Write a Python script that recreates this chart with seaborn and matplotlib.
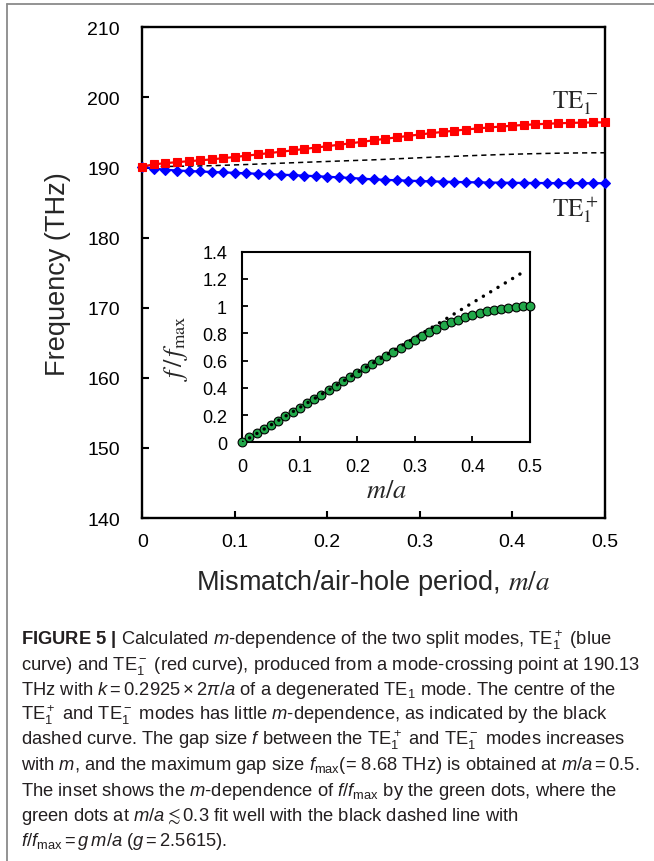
import numpy as np
import pandas as pd
import matplotlib
matplotlib.use("Agg")
import matplotlib.pyplot as plt
import seaborn as sns
from matplotlib import font_manager
from matplotlib.lines import Line2D

# ---------------- data ----------------
m_over_a = [0.0, 0.0125, 0.025, 0.0375, 0.05, 0.0625, 0.075, 0.0875, 0.1, 0.1125,
            0.125, 0.1375, 0.15, 0.1625, 0.175, 0.1875, 0.2, 0.2125, 0.225, 0.2375,
            0.25, 0.2625, 0.275, 0.2875, 0.3, 0.3125, 0.325, 0.3375, 0.35, 0.3625,
            0.375, 0.3875, 0.4, 0.4125, 0.425, 0.4375, 0.45, 0.4625, 0.475, 0.4875, 0.5]

te_minus = [190.13, 190.45, 190.62, 190.76, 190.90, 191.02, 191.16, 191.33, 191.50, 191.68,
            191.87, 192.06, 192.25, 192.44, 192.64, 192.84, 193.04, 193.24, 193.45, 193.66,
            193.88, 194.09, 194.30, 194.51, 194.71, 194.90, 195.08, 195.25, 195.42, 195.57,
            195.71, 195.84, 195.96, 196.07, 196.16, 196.24, 196.31, 196.36, 196.40, 196.43, 196.44]

te_plus = [190.13, 189.85, 189.68, 189.57, 189.50, 189.43, 189.36, 189.30, 189.24, 189.17,
           189.11, 189.04, 188.98, 188.91, 188.84, 188.76, 188.68, 188.60, 188.51, 188.41,
           188.31, 188.24, 188.18, 188.12, 188.07, 188.02, 187.98, 187.94, 187.91, 187.88,
           187.86, 187.84, 187.82, 187.80, 187.79, 187.78, 187.77, 187.77, 187.76, 187.76, 187.76]

f_ratio = [0.0, 0.04, 0.07, 0.095, 0.125, 0.16, 0.19, 0.225, 0.255, 0.285,
           0.32, 0.35, 0.385, 0.415, 0.45, 0.48, 0.51, 0.545, 0.575, 0.605,
           0.635, 0.665, 0.695, 0.725, 0.755, 0.78, 0.81, 0.835, 0.86, 0.88,
           0.90, 0.92, 0.935, 0.95, 0.962, 0.973, 0.982, 0.989, 0.995, 0.998, 1.0]

fit_x = [0.0, 0.49]
fit_y = [0.0, 1.255]

main_xticks = [0.0, 0.1, 0.2, 0.3, 0.4, 0.5]
main_xticklabels = ["0", "0.1", "0.2", "0.3", "0.4", "0.5"]
main_yticks = [140, 150, 160, 170, 180, 190, 200, 210]
main_yticklabels = ["140", "150", "160", "170", "180", "190", "200", "210"]
inset_yticks = [0.0, 0.2, 0.4, 0.6, 0.8, 1.0, 1.2, 1.4]
inset_yticklabels = ["0", "0.2", "0.4", "0.6", "0.8", "1", "1.2", "1.4"]

caption_lines = [
    r"$\mathbf{FIGURE\ 5\ |}$ Calculated $m$-dependence of the two split modes, TE$_1^+$ (blue",
    r"curve) and TE$_1^-$ (red curve), produced from a mode-crossing point at 190.13",
    r"THz with $k = 0.2925 \times 2\pi/a$ of a degenerated TE$_1$ mode. The centre of the",
    r"TE$_1^+$ and TE$_1^-$ modes has little $m$-dependence, as indicated by the black",
    r"dashed curve. The gap size $f$ between the TE$_1^+$ and TE$_1^-$ modes increases",
    r"with $m$, and the maximum gap size $f_{\mathrm{max}}$(= 8.68 THz) is obtained at $m/a = 0.5$.",
    r"The inset shows the $m$-dependence of $f/f_{\mathrm{max}}$ by the green dots, where the",
    r"green dots at $m/a \lesssim 0.3$ fit well with the black dashed line with",
    r"$f/f_{\mathrm{max}} = g\,m/a$ ($g = 2.5615$).",
]

df = pd.DataFrame({"x": m_over_a, "minus": te_minus, "plus": te_plus, "ratio": f_ratio})
df["centre"] = (df["minus"] + df["plus"]) / 2.0
fit_df = pd.DataFrame({"x": fit_x, "y": fit_y})

# ---------------- style ----------------
sns.set_style("ticks")
cap_font = "Liberation Sans"
try:
    font_manager.findfont(font_manager.FontProperties(family="Liberation Sans Narrow"),
                          fallback_to_default=False)
    cap_font = "Liberation Sans Narrow"
except Exception:
    pass
plt.rcParams["font.family"] = ["Liberation Sans", "DejaVu Sans"]
plt.rcParams["mathtext.fontset"] = "custom"
plt.rcParams["mathtext.rm"] = cap_font
plt.rcParams["mathtext.sf"] = cap_font
plt.rcParams["mathtext.it"] = cap_font + ":italic"
plt.rcParams["mathtext.bf"] = cap_font + ":bold"
plt.rcParams["mathtext.fallback"] = "stix"

W, H = 654, 862
fig = plt.figure(figsize=(W / 100, H / 100), dpi=100)


def fx(px):
    return px / W


def fy(py):
    return 1 - py / H


# gray frame (top and left)
fig.add_artist(Line2D([fx(6.5), fx(654)], [fy(5), fy(5)], color="#8a8a8a", lw=1.3))
fig.add_artist(Line2D([fx(6.5), fx(6.5)], [fy(5), fy(862)], color="#8a8a8a", lw=1.3))

# ---------------- main axes ----------------
L, R, T, B = 142.3, 604.7, 28.3, 519.0
ax = fig.add_axes([fx(L), fy(B), (R - L) / W, (B - T) / H])

sns.lineplot(data=df, x="x", y="centre", ax=ax, color="black", lw=1.1, zorder=2)
ax.lines[-1].set_dashes([3.4, 2.6])
sns.lineplot(data=df, x="x", y="plus", ax=ax, color="#0000ff", lw=1.6, marker="D",
             markersize=5.4, markeredgecolor="#0000ff", markeredgewidth=0.8,
             clip_on=False, zorder=3)
sns.lineplot(data=df, x="x", y="minus", ax=ax, color="#ff0000", lw=1.6, marker="s",
             markersize=5.8, markeredgecolor="#ff0000", markeredgewidth=0.8,
             clip_on=False, zorder=4)

ax.set_xlim(0, 0.5)
ax.set_ylim(140, 210)
ax.set_xticks(main_xticks)
ax.set_xticklabels(main_xticklabels)
ax.set_yticks(main_yticks)
ax.set_yticklabels(main_yticklabels)
ax.set_xlabel("")
ax.set_ylabel("")
ax.tick_params(axis="both", direction="in", length=5, width=1.5, labelsize=14,
               colors="black", top=False, right=False)
ax.tick_params(axis="y", pad=16)
ax.tick_params(axis="x", pad=11)
for s in ax.spines.values():
    s.set_linewidth(1.7)
    s.set_color("black")
    s.set_visible(True)

ax.text(0.443, 198.6, r"$\mathrm{TE}_1^-$", math_fontfamily="stix", fontsize=18,
        ha="left", va="baseline")
ax.text(0.443, 183.1, r"$\mathrm{TE}_1^+$", math_fontfamily="stix", fontsize=18,
        ha="left", va="baseline")

fig.text(fx(58), fy((T + B) / 2), "Frequency (THz)", rotation=90, fontsize=19.5,
         ha="center", va="center")
fig.text(fx((L + R) / 2), fy(590), r"Mismatch/air-hole period, $m/a$",
         math_fontfamily="stix", fontsize=19.5, ha="center", va="baseline")

# ---------------- inset ----------------
iL, iR, iT, iB = 242.3, 530.0, 252.7, 443.3
ax2 = fig.add_axes([fx(iL), fy(iB), (iR - iL) / W, (iB - iT) / H])
ax2.set_facecolor("white")
sns.scatterplot(data=df, x="x", y="ratio", ax=ax2, color="#22a84a", edgecolor="black",
                linewidth=0.8, s=40, clip_on=False, zorder=3)
sns.lineplot(data=fit_df, x="x", y="y", ax=ax2, color="black", lw=2.5, zorder=4)
fl = ax2.lines[-1]
fl.set_dashes([0.01, 2.45])
fl.set_dash_capstyle("round")

ax2.set_xlim(0, 0.5)
ax2.set_ylim(0, 1.4)
ax2.set_xticks(main_xticks)
ax2.set_xticklabels(main_xticklabels)
ax2.set_yticks(inset_yticks)
ax2.set_yticklabels(inset_yticklabels)
ax2.set_xlabel("")
ax2.set_ylabel("")
ax2.tick_params(axis="both", direction="in", length=4, width=1.3, labelsize=13,
                colors="black", top=False, right=False, pad=11)
for s in ax2.spines.values():
    s.set_linewidth(1.5)
    s.set_color("black")
    s.set_visible(True)

fig.text(fx((iL + iR) / 2), fy(498), r"$m/a$", math_fontfamily="stix", fontsize=19,
         ha="center", va="baseline")
fig.text(fx(176), fy((iT + iB) / 2), r"$f\,/\,f_{\mathrm{max}}$", math_fontfamily="stix",
         fontsize=19, rotation=90, ha="center", va="center")

# ---------------- caption ----------------
cap_texts = []
base_size = 13.4
y0, dy = 644.5, 25.2
for i, line in enumerate(caption_lines):
    t = fig.text(fx(21), fy(y0 + i * dy), line, fontsize=base_size, ha="left",
                 va="baseline", color="#231f20", family=[cap_font, "DejaVu Sans"],
                 math_fontfamily="custom")
    cap_texts.append(t)

renderer = fig.canvas.get_renderer()
w6 = cap_texts[5].get_window_extent(renderer).width
target = 620.0
if w6 > 0:
    new_size = base_size * min(1.0, target / w6)
    for t in cap_texts:
        t.set_fontsize(new_size)

fig.savefig("out.png", dpi=100)
